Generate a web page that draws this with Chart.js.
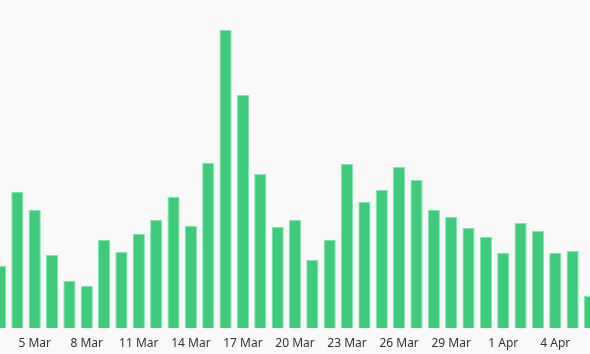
<!DOCTYPE html>
<html>
<head>
<meta charset="utf-8">
<script src="https://cdn.jsdelivr.net/npm/chart.js@4/dist/chart.umd.min.js"></script>
<style>
  html, body { margin: 0; padding: 0; background: #f9f9f9; }
  #wrap { width: 590px; height: 354px; }
</style>
</head>
<body>
<div id="wrap"><canvas id="BarChart"></canvas></div>
<script>
// days shown, 3 Mar .. 6 Apr
const days = [
    '3 Mar', '4 Mar', '5 Mar', '6 Mar', '7 Mar', '8 Mar', '9 Mar', '10 Mar',
    '11 Mar', '12 Mar', '13 Mar', '14 Mar', '15 Mar', '16 Mar', '17 Mar', '18 Mar',
    '19 Mar', '20 Mar', '21 Mar', '22 Mar', '23 Mar', '24 Mar', '25 Mar', '26 Mar',
    '27 Mar', '28 Mar', '29 Mar', '30 Mar', '31 Mar', '1 Apr', '2 Apr', '3 Apr',
    '4 Apr', '5 Apr', '6 Apr'
];

// daily values
const counts = [
    62, 136, 118, 73, 47, 42, 88, 76,
    94, 108, 131, 102, 165, 298, 233, 154,
    101, 108, 68, 88, 164, 126, 138, 161,
    148, 118, 111, 100, 91, 75, 105, 97,
    75, 77, 32
];

const yMax = 328;

const ctx = document.getElementById('BarChart').getContext('2d');
const BarChart = new Chart(ctx, {
    type: 'bar',
    data: {
        labels: days,
        datasets: [{
            data: counts,
            backgroundColor: '#3ecc7c',
            borderColor: '#86e2ad',
            borderWidth: 1,
            categoryPercentage: 0.8,
            barPercentage: 0.88
        }]
    },
    options: {
        responsive: true,
        maintainAspectRatio: false,
        animation: false,
        layout: { padding: { left: 0, right: 0, top: 0, bottom: 3.6 } },
        plugins: {
            legend: { display: false },
            tooltip: { enabled: false }
        },
        scales: {
            x: {
                offset: false,
                grid: { display: false, drawTicks: true, tickLength: 8 },
                border: { display: false },
                ticks: {
                    autoSkip: false,
                    maxRotation: 0,
                    padding: 0,
                    color: '#333',
                    font: { family: 'Noto Sans', size: 12 },
                    callback: function (val, i) {
                        return i % 3 === 2 ? this.getLabelForValue(val) : '';
                    }
                }
            },
            y: {
                display: false,
                min: 0,
                max: yMax
            }
        }
    }
});
</script>
</body>
</html>
